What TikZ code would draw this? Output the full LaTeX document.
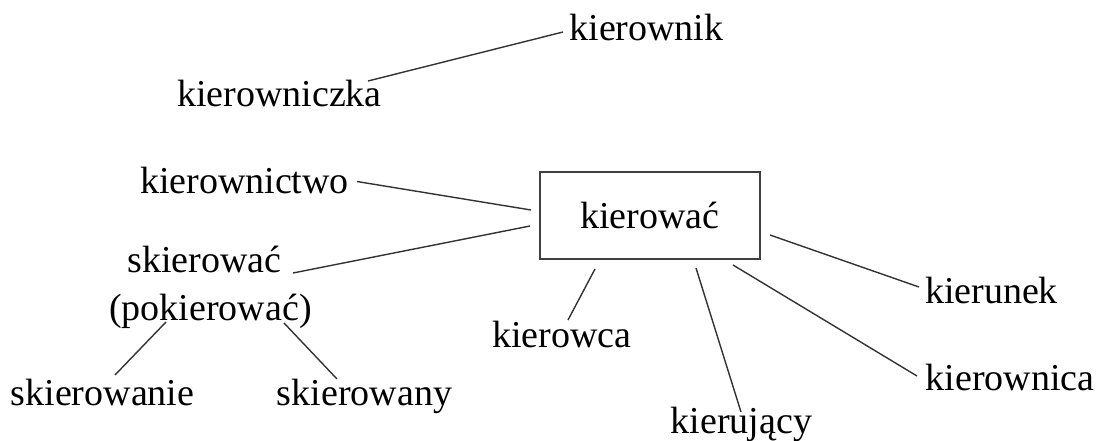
\documentclass[tikz,border=0pt]{standalone}
\usepackage{fontspec}
\setmainfont{Liberation Serif}

\begin{document}
\begin{tikzpicture}[x=0.5pt, y=-0.5pt, every node/.style={font=\fontsize{19}{23}\selectfont},
  word/.style={anchor=base, inner sep=0pt},
  link/.style={line width=0.7pt, draw=black!80}]
\useasboundingbox (0,0) rectangle (1098,440);
% central verb in a frame
\node[draw=black!75, line width=0.8pt, minimum width=110pt, minimum height=43.5pt] (kierowac) at (650,215.5) {kierować};
% derived words
\node[word] (kierownik) at (646.5,40) {kierownik};
\node[word] (kierowniczka) at (279.5,106) {kierowniczka};
\node[word] (kierownictwo) at (244.5,193) {kierownictwo};
\node[word] (skierowac) at (204.5,272) {skierować};
\node[word] (pokierowac) at (210.5,320) {(pokierować)};
\node[word] (skierowanie) at (102.5,405) {skierowanie};
\node[word] (skierowany) at (364.5,405) {skierowany};
\node[word] (kierowca) at (562,347) {kierowca};
\node[word] (kierujacy) at (741.5,433) {kierujący};
\node[word] (kierunek) at (991.5,303) {kierunek};
\node[word] (kierownica) at (1010,390) {kierownica};
% connectors
\draw[link] ([shift={(-83.5,-8)}]kierownik.base) -- ([shift={(88.5,-25)}]kierowniczka.base);
\draw[link] ([shift={(112.5,-11.5)}]kierownictwo.base) -- ([shift={(-119,-5.5)}]kierowac.center);
\draw[link] ([shift={(88.5,1)}]skierowac.base) -- ([shift={(-120,10.5)}]kierowac.center);
\draw[link] ([shift={(-44.5,2)}]pokierowac.base) -- ([shift={(12.5,-30)}]skierowanie.base);
\draw[link] ([shift={(73.5,3)}]pokierowac.base) -- ([shift={(-27.5,-26)}]skierowany.base);
\draw[link] ([shift={(-55,53.5)}]kierowac.center) -- ([shift={(6,-27)}]kierowca.base);
\draw[link] ([shift={(46,52.5)}]kierowac.center) -- ([shift={(-0.5,-21)}]kierujacy.base);
\draw[link] ([shift={(83,49.5)}]kierowac.center) -- ([shift={(-93,-14)}]kierownica.base);
\draw[link] ([shift={(120,19.5)}]kierowac.center) -- ([shift={(-72.5,-16)}]kierunek.base);
\end{tikzpicture}
\end{document}
